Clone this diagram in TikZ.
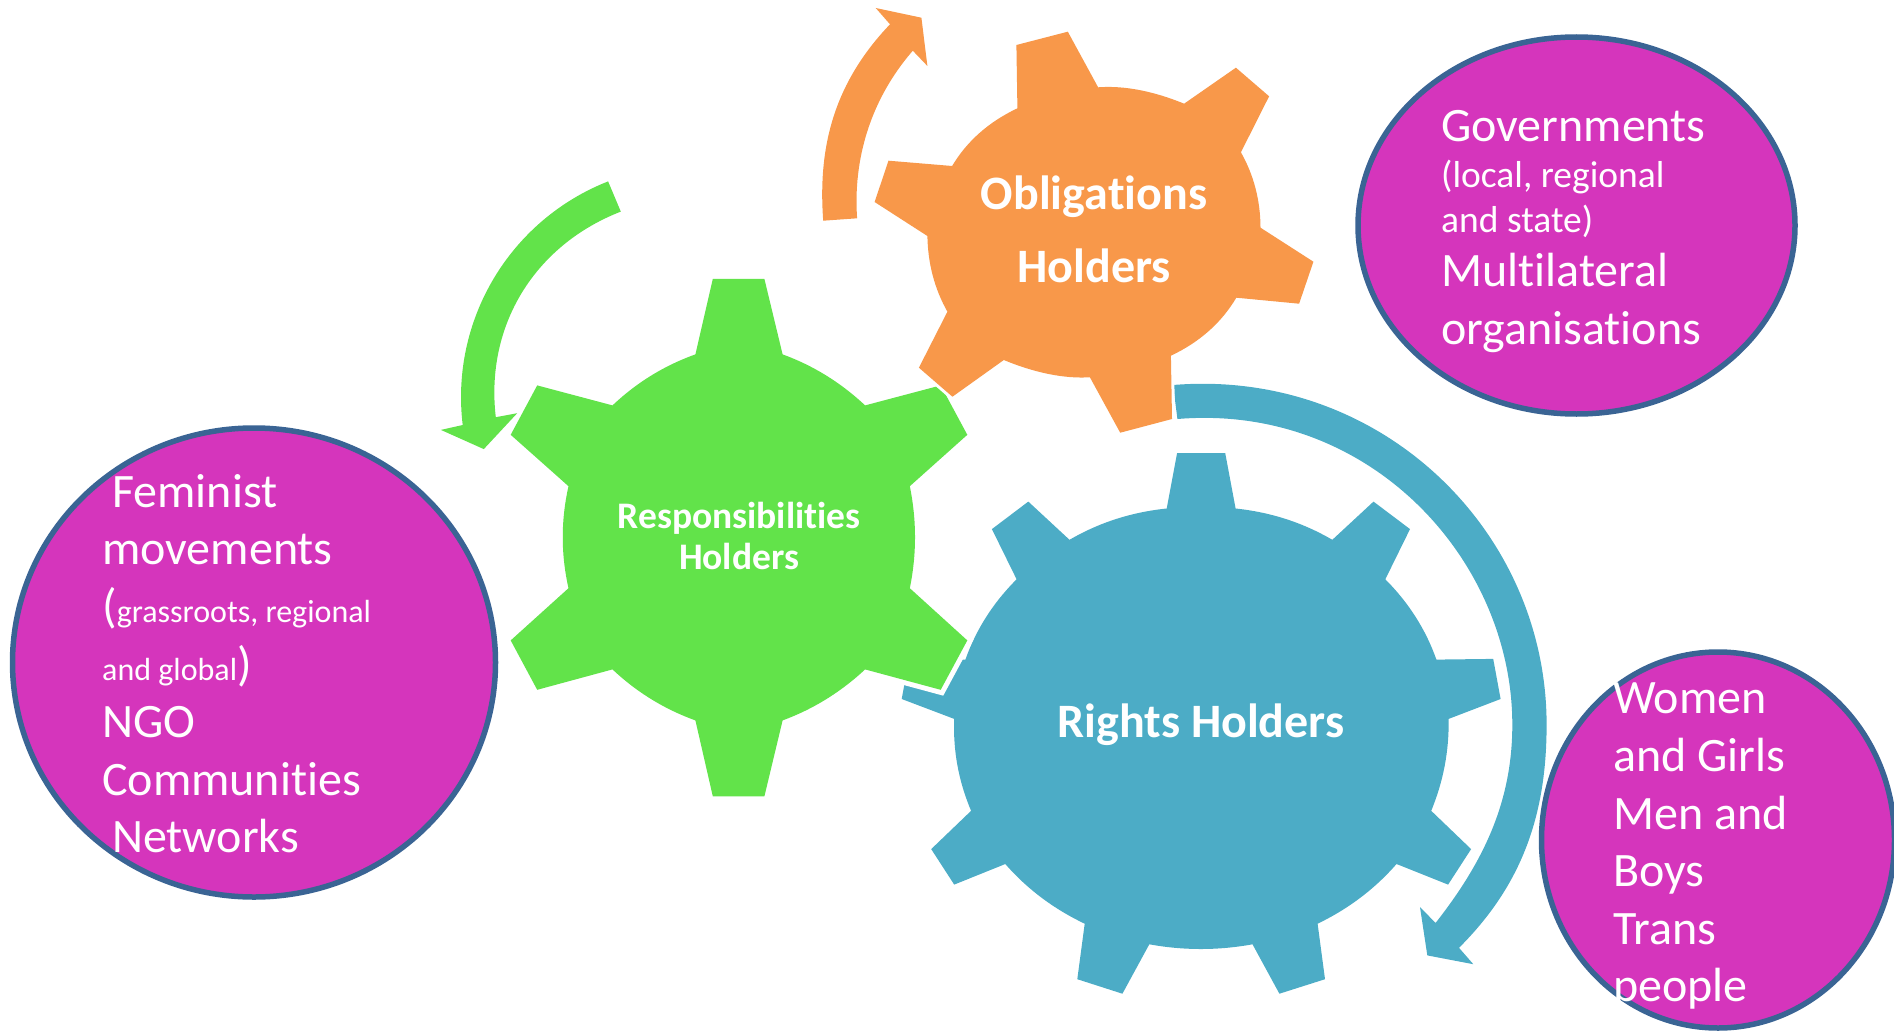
\documentclass[tikz,border=0pt]{standalone}
\usepackage{fontspec}
\setmainfont[Ligatures=NoCommon]{Carlito}
\usetikzlibrary{shapes.geometric,calc}
\definecolor{cgreen}{HTML}{62E34A}
\definecolor{corange}{HTML}{F8984A}
\definecolor{cblue}{HTML}{4CACC6}
\definecolor{cmag}{HTML}{D535BC}
\definecolor{cedge}{HTML}{3A6494}
\newcommand\qto[3]{.. controls ($(#1)!0.6667!(#2)$) and ($(#3)!0.6667!(#2)$) .. (#3)}
\tikzset{
  gearblue/.style={fill=cblue},
  geargreen/.style={fill=cgreen,preaction={draw=white,line width=10pt}},
  gearorange/.style={fill=corange,preaction={draw=white,line width=6pt}},
  bubble/.style={ellipse,draw=cedge,line width=5.5pt,fill=cmag,inner sep=0pt},
  big/.style={anchor=base west,inner sep=0pt,text=white,font=\fontsize{48}{48}\selectfont},
  small/.style={anchor=base west,inner sep=0pt,text=white,font=\fontsize{37.5}{37.5}\selectfont},
  tiny/.style={anchor=base west,inner sep=0pt,text=white,font=\fontsize{32}{32}\selectfont},
  title/.style={anchor=base,inner sep=0pt,text=white,font=\bfseries\fontsize{48}{48}\selectfont},
  titleb/.style={anchor=base,inner sep=0pt,text=white,font=\bfseries\fontsize{37.5}{37.5}\selectfont},
}
\begin{document}
\begin{tikzpicture}[x=1pt,y=-1pt]
\useasboundingbox (0,0) rectangle (1894,1030);
\clip (0,0) rectangle (1894,1030);
% bubbles
\node[bubble,minimum width=483pt,minimum height=469pt] (bubbleleft) at (254,662.5) {};
\node[bubble,minimum width=437pt,minimum height=377pt] (bubbletop) at (1576.5,225.5) {};
\node[bubble,minimum width=353pt,minimum height=376pt] (bubblebottom) at (1718,840) {};
% blue gear
\fill[gearblue] (1177.1,453) -- (1225.2,453) -- (1235.6,508.5)
  \qto{1235.6,508.5}{1288.1,514}{1332.3,539.8} -- (1373.5,501.6) -- (1410,529.1) -- (1385.3,579.3)
  \qto{1385.3,579.3}{1420.5,614.6}{1436.4,659.6} -- (1493.2,658.9) -- (1500.6,699) -- (1448.6,718.9)
  \qto{1448.6,718.9}{1449.5,766.5}{1431.2,810.8} -- (1471.1,849.1) -- (1448.1,884.6) -- (1396.5,864)
  \qto{1396.5,864}{1364,901.3}{1317.6,923.7} -- (1325,979.2) -- (1279.4,993.7) -- (1252.5,944.3)
  \qto{1252.5,944.3}{1200.9,953.7}{1149.3,944.3} -- (1122.4,993.7) -- (1077.3,979.2) -- (1084.7,923.7)
  \qto{1084.7,923.7}{1037.8,901.3}{1005.3,864} -- (954.2,884.6) -- (931.2,849.1) -- (971.1,810.8)
  \qto{971.1,810.8}{952.3,766.5}{954.2,718.9} -- (901.7,699) -- (909.1,658.9) -- (965.4,659.6)
  \qto{965.4,659.6}{981.3,614.6}{1016.6,579.3} -- (991.9,529.1) -- (1028.3,501.6) -- (1069.5,539.8)
  \qto{1069.5,539.8}{1113.7,514}{1166.7,508.5} -- cycle;
% blue arrow
\fill[cblue] (1173.1,385) .. controls (1380,368) and (1546.6,530) .. (1546.6,724.7)
  .. controls (1546.6,815) and (1522,885) .. (1459,947.8)
  -- (1473.3,964.2) -- (1427.3,955.4) -- (1420,907.2) -- (1435.6,922.9)
  .. controls (1485,860) and (1512.3,800) .. (1512.3,724.7)
  .. controls (1512.3,560) and (1370,403) .. (1177.4,419) -- cycle;
% green gear
\path[geargreen] (712.8,278.9) -- (764.4,278.9) -- (782.6,354.4)
  \qto{782.6,354.4}{828.5,371.1}{865.1,405.4} -- (940.7,385.4) -- (967.3,434.8) -- (909.8,486.2)
  \qto{909.8,486.2}{920.2,537.3}{909.8,588.2} -- (967.3,640.4) -- (940.7,689.8) -- (865.1,669.4)
  \qto{865.1,669.4}{828.5,703.5}{782.6,720.4} -- (764.4,796.3) -- (712.8,796.3) -- (695.4,720.4)
  \qto{695.4,720.4}{648.7,703.5}{612.5,669.4} -- (537.2,689.8) -- (510.7,640.4) -- (568.5,588.2)
  \qto{568.5,588.2}{557,537.3}{568.5,486.2} -- (510.7,434.8) -- (537.2,385.4) -- (612.5,405.4)
  \qto{612.5,405.4}{648.7,371.1}{695.4,354.4} -- cycle;
% green arrow
\fill[cgreen] (608.1,181.4) .. controls (510,220) and (450,320) .. (462.7,425)
  -- (440.9,429.9) -- (483.8,449.1) -- (517.2,413.2) -- (495.8,417.2)
  .. controls (485,325) and (535,245) .. (620.8,211.6) -- cycle;
% orange gear
\path[gearorange] (1016.4,45) -- (1067.8,31.7) -- (1098.1,87.3)
  \qto{1098.1,87.3}{1137.3,84.5}{1184.1,103.7} -- (1235.9,67.7) -- (1269.1,96.3) -- (1240.9,152.3)
  \qto{1240.9,152.3}{1260.3,186.6}{1260.5,227.7} -- (1313.4,261.7) -- (1299.1,303.7) -- (1236.3,297.7)
  \qto{1236.3,297.7}{1214,335.3}{1170.9,355.7} -- (1172,419) -- (1120.2,432.7) -- (1089.9,377.3)
  \qto{1089.9,377.3}{1051.1,379.5}{1003.8,360} -- (952.4,396.7) -- (918.9,367.7) -- (947.4,311.7)
  \qto{947.4,311.7}{928.1,277.4}{927.4,236} -- (874.6,202) -- (888.5,160.7) -- (952.1,166)
  \qto{952.1,166}{974.4,128.7}{1017.4,108.3} -- cycle;
% orange arrow
\fill[corange] (823.2,220.7) .. controls (818,150) and (832,85) .. (890,24.3)
  -- (875.7,8) -- (921.4,17.7) -- (927.4,66) -- (912.8,50.7)
  .. controls (870,100) and (853,160) .. (857.1,218.3) -- cycle;
% titles
\node[title] (tobl) at (1094,209) {Obligations};
\node[title] (thold) at (1094,282) {Holders};
\node[titleb] (tresp) at (739,528) {Responsibilities};
\node[titleb] (tresph) at (739,569) {Holders};
\node[title] (trights) at (1201,737) {Rights Holders};
% left text
\node[big] (l1) at (112,507) {Feminist};
\node[big] (l2) at (102,564) {movements};
\node[tiny] (l3) at (102,622) {{\fontsize{48}{48}\selectfont(}grassroots, regional};
\node[tiny] (l4) at (102,680) {and global{\fontsize{48}{48}\selectfont)}};
\node[big] (l5) at (102,737) {NGO};
\node[big] (l6) at (102,795) {Communities};
\node[big] (l7) at (112,852) {Networks};
% top right text
\node[big] (r1) at (1441,141) {Governments};
\node[small] (r2) at (1441,187) {(local, regional};
\node[small] (r3) at (1441,232) {and state)};
\node[big] (r4) at (1441,286) {Multilateral};
\node[big] (r5) at (1441,344) {organisations};
% bottom right text
\node[big] (b1) at (1613,713) {Women};
\node[big] (b2) at (1613,771) {and Girls};
\node[big] (b3) at (1613,829) {Men and};
\node[big] (b4) at (1613,886) {Boys};
\node[big] (b5) at (1613,944) {Trans};
\node[big] (b6) at (1613,1001) {people};
\end{tikzpicture}
\end{document}
